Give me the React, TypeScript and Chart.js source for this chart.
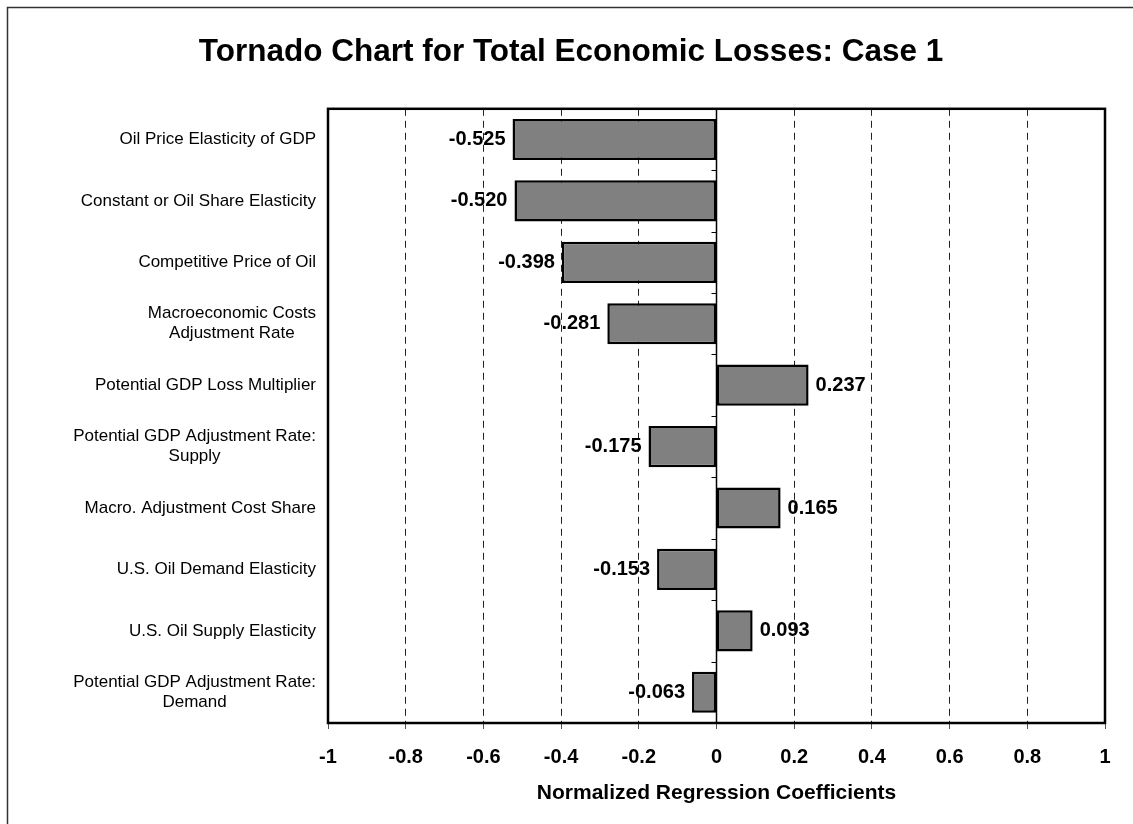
import React, { useEffect, useRef } from "react";
import { Chart, registerables } from "chart.js";

Chart.register(...registerables);

const chartTitle = "Tornado Chart for Total Economic Losses: Case 1";
const axisTitle = "Normalized Regression Coefficients";

const categories: string[][] = [
  ["Oil Price Elasticity of GDP"],
  ["Constant or Oil Share Elasticity"],
  ["Competitive Price of Oil"],
  ["Macroeconomic Costs", "Adjustment Rate"],
  ["Potential GDP Loss Multiplier"],
  ["Potential GDP Adjustment Rate:", "Supply"],
  ["Macro. Adjustment Cost Share"],
  ["U.S. Oil Demand Elasticity"],
  ["U.S. Oil Supply Elasticity"],
  ["Potential GDP Adjustment Rate:", "Demand"],
];

const coefficients: number[] = [-0.525, -0.52, -0.398, -0.281, 0.237, -0.175, 0.165, -0.153, 0.093, -0.063];

const xTicks: number[] = [-1, -0.8, -0.6, -0.4, -0.2, 0, 0.2, 0.4, 0.6, 0.8, 1];
const xTickLabels: string[] = ["-1", "-0.8", "-0.6", "-0.4", "-0.2", "0", "0.2", "0.4", "0.6", "0.8", "1"];

const FONT = "'Liberation Sans', Arial, Helvetica, sans-serif";

const decorPlugin = {
  id: "decor",
  beforeDatasetsDraw(chart: any) {
    const { ctx, chartArea, scales } = chart;
    const x0 = scales.x.getPixelForValue(0);
    ctx.save();
    ctx.setLineDash([]);
    ctx.strokeStyle = "#000";
    ctx.lineWidth = 1.5;
    ctx.beginPath();
    ctx.moveTo(x0, chartArea.top);
    ctx.lineTo(x0, chartArea.bottom);
    ctx.stroke();
    const n = chart.data.labels.length;
    ctx.lineWidth = 1;
    for (let i = 0; i <= n; i++) {
      const y = scales.y.getPixelForValue(i - 0.5);
      ctx.beginPath();
      ctx.moveTo(x0 - 5, Math.round(y) + 0.5);
      ctx.lineTo(x0, Math.round(y) + 0.5);
      ctx.stroke();
    }
    ctx.restore();
  },
  afterDraw(chart: any) {
    const { ctx, chartArea, scales } = chart;
    ctx.save();
    ctx.setLineDash([]);
    ctx.strokeStyle = "#000";
    ctx.lineWidth = 2.5;
    ctx.strokeRect(chartArea.left, chartArea.top, chartArea.right - chartArea.left, chartArea.bottom - chartArea.top);
    ctx.strokeStyle = "#333";
    ctx.lineWidth = 1.5;
    ctx.strokeRect(7.5, 7.5, 1300, 1000);

    ctx.font = `17px ${FONT}`;
    ctx.fillStyle = "#000";
    ctx.textAlign = "center";
    ctx.textBaseline = "middle";
    const right = chartArea.left - 12;
    const labels = chart.data.labels as string[][];
    labels.forEach((lines, i) => {
      const yc = scales.y.getPixelForValue(i);
      const widths = lines.map((l) => ctx.measureText(l).width);
      const maxW = Math.max(...widths);
      const cx = right - maxW / 2;
      lines.forEach((l, j) => {
        const y = yc + (j - (lines.length - 1) / 2) * 20;
        ctx.fillText(l, cx, y);
      });
    });

    ctx.font = `bold 20px ${FONT}`;
    const meta = chart.getDatasetMeta(0);
    const data = chart.data.datasets[0].data as number[];
    meta.data.forEach((bar: any, i: number) => {
      const v = data[i];
      const txt = v.toFixed(3);
      if (v < 0) {
        ctx.textAlign = "right";
        ctx.fillText(txt, bar.x - 7, bar.y);
      } else {
        ctx.textAlign = "left";
        ctx.fillText(txt, bar.x + 7, bar.y);
      }
    });
    ctx.restore();
  },
};

export default function App() {
  const ref = useRef<HTMLCanvasElement>(null);
  useEffect(() => {
    if (!ref.current) return;
    const isEdge = (v: number) => Math.abs(v) < 1e-9 || Math.abs(Math.abs(v) - 1) < 1e-9;
    const chart = new Chart(ref.current, {
      type: "bar",
      data: {
        labels: categories as any,
        datasets: [
          {
            data: coefficients,
            backgroundColor: "#808080",
            borderColor: "#000",
            borderWidth: 2.5,
            borderSkipped: false,
            categoryPercentage: 1,
            barPercentage: 0.67,
          },
        ],
      },
      options: {
        indexAxis: "y",
        responsive: false,
        animation: false,
        devicePixelRatio: 1,
        layout: { padding: { left: 37, right: 28, top: 0, bottom: 0 } },
        plugins: {
          legend: { display: false },
          tooltip: { enabled: false },
          title: {
            display: true,
            text: chartTitle,
            color: "#000",
            font: { family: FONT, size: 31.5, weight: "bold" },
            padding: { top: 33, bottom: 38 },
          },
        },
        scales: {
          x: {
            type: "linear",
            min: -1,
            max: 1,
            afterBuildTicks: (s: any) => {
              s.ticks = xTicks.map((v) => ({ value: v }));
            },
            afterFit: (s: any) => {
              s.height = 101;
            },
            border: { display: false, dash: [7, 5] },
            grid: {
              color: (c: any) => (c.tick && isEdge(c.tick.value) ? "rgba(0,0,0,0)" : "#222"),
              lineWidth: 1,
              drawTicks: true,
              tickLength: 6,
              tickColor: "#555",
              tickWidth: 1,
              tickBorderDash: [],
            } as any,
            ticks: {
              color: "#000",
              padding: 16,
              font: { family: FONT, size: 20, weight: "bold" },
              autoSkip: false,
              maxRotation: 0,
              callback: (_v: any, i: number) => xTickLabels[i],
            },
            title: {
              display: true,
              text: axisTitle,
              color: "#000",
              font: { family: FONT, size: 21, weight: "bold" },
              padding: { top: 0, bottom: 18 },
            },
          },
          y: {
            type: "category",
            afterFit: (s: any) => {
              s.width = 291;
            },
            border: { display: false },
            grid: { display: false },
            ticks: { display: false },
          },
        },
      },
      plugins: [decorPlugin],
    } as any);
    return () => chart.destroy();
  }, []);
  return (
    <div style={{ position: "absolute", left: 0, top: 0, width: 1133, height: 824, background: "#fff" }}>
      <canvas ref={ref} width={1133} height={824} style={{ width: 1133, height: 824, display: "block" }} />
    </div>
  );
}
